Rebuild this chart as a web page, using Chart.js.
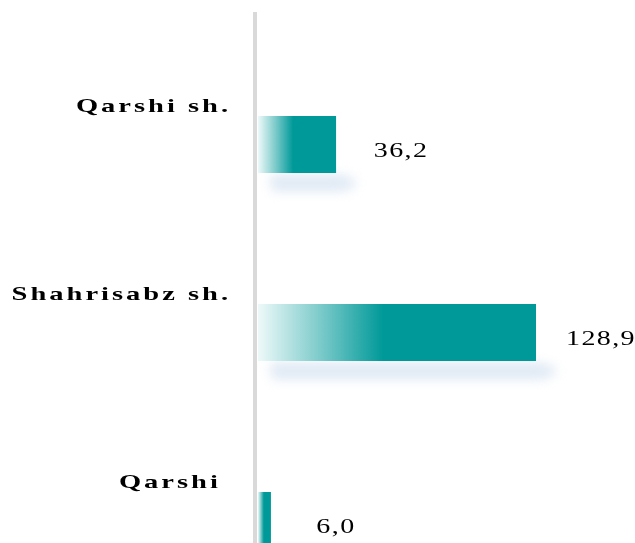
<!DOCTYPE html>
<html>
<head>
<meta charset="utf-8">
<script src="https://cdn.jsdelivr.net/npm/chart.js@4"></script>
<style>
  html, body { margin: 0; padding: 0; background: #ffffff; overflow: hidden; }
  #wrap { width: 635px; height: 620px; }
</style>
</head>
<body>
<div id="wrap"><canvas id="c" width="635" height="620"></canvas></div>
<script>
const categories = ['Qarshi sh.', 'Shahrisabz sh.', 'Qarshi '];
const values = [36.2, 128.9, 6.0];

const TEAL = '#009999';

const decorPlugin = {
  id: 'decor',
  beforeDatasetsDraw(chart) {
    const ctx = chart.ctx;
    const meta = chart.getDatasetMeta(0);
    // axis line
    ctx.save();
    ctx.fillStyle = '#d9d9d9';
    ctx.fillRect(253, 12, 4, chart.height);
    // shadows
    ctx.filter = 'blur(6px)';
    ctx.fillStyle = 'rgba(205,219,238,0.65)';
    meta.data.forEach(bar => {
      const bottom = bar.y + bar.height / 2;
      ctx.beginPath();
      ctx.moveTo(bar.base + 12, bottom + 2);
      ctx.lineTo(bar.x + 4, bottom + 2);
      ctx.quadraticCurveTo(bar.x + 36, bottom + 10, bar.x + 6, bottom + 18);
      ctx.lineTo(bar.base + 14, bottom + 18);
      ctx.closePath();
      ctx.fill();
    });
    ctx.restore();
  },
  afterDatasetsDraw(chart) {
    const ctx = chart.ctx;
    const meta = chart.getDatasetMeta(0);
    ctx.save();
    ctx.fillStyle = '#000000';
    meta.data.forEach((bar, i) => {
      const top = bar.y - bar.height / 2;
      // category label
      ctx.save();
      ctx.font = 'bold 19px "Liberation Serif"';
      ctx.letterSpacing = '2px';
      ctx.textAlign = 'right';
      ctx.textBaseline = 'middle';
      ctx.translate(231, top - 9);
      ctx.scale(1.5, 1);
      ctx.fillText(categories[i], 0, 0);
      ctx.restore();
      // value label
      ctx.save();
      ctx.font = '20px "Liberation Serif"';
      ctx.letterSpacing = '1px';
      ctx.textAlign = 'center';
      ctx.textBaseline = 'middle';
      ctx.translate(bar.x + 65, bar.y + 7);
      ctx.scale(1.4, 1);
      ctx.fillText(values[i].toFixed(1).replace('.', ','), 0, 0);
      ctx.restore();
    });
    ctx.restore();
  }
};

new Chart(document.getElementById('c'), {
  type: 'bar',
  data: {
    labels: categories,
    datasets: [{
      data: values,
      backgroundColor: (c) => {
        const chart = c.chart;
        const xs = chart.scales.x;
        if (!xs || c.type !== 'data' || !chart.chartArea) return TEAL;
        const x0 = xs.getPixelForValue(0);
        const x1 = xs.getPixelForValue(c.raw);
        const g = chart.ctx.createLinearGradient(x0, 0, x0 + (x1 - x0) * 0.45, 0);
        g.addColorStop(0, '#eef9f9');
        g.addColorStop(0.5, '#7ccaca');
        g.addColorStop(1, TEAL);
        return g;
      },
      borderWidth: 0,
      barPercentage: 57 / 188,
      categoryPercentage: 1
    }]
  },
  options: {
    indexAxis: 'y',
    responsive: false,
    devicePixelRatio: 1,
    animation: false,
    layout: { padding: { left: 258, top: 50.5, right: 0, bottom: 5.5 } },
    plugins: { legend: { display: false }, tooltip: { enabled: false }, title: { display: false } },
    scales: {
      x: { display: false, min: 0, max: 174.8 },
      y: { display: false, offset: true }
    }
  },
  plugins: [decorPlugin]
});
</script>
</body>
</html>
